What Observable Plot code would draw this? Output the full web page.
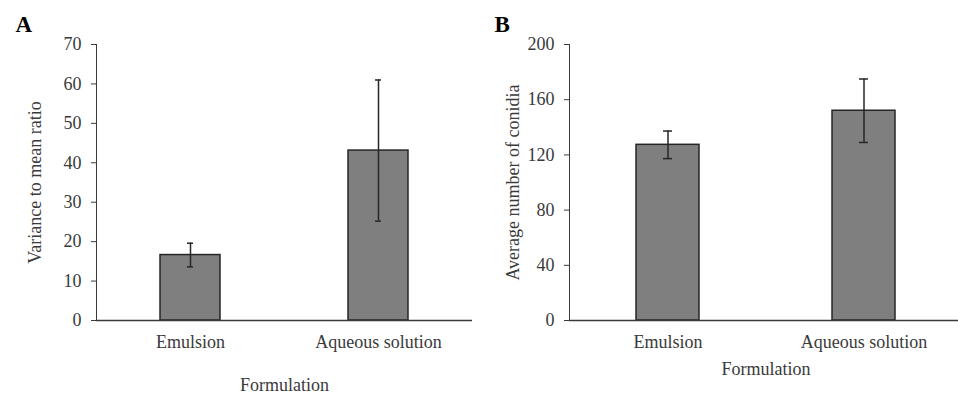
<!DOCTYPE html>
<html>
<head>
<meta charset="utf-8">
<script src="https://cdn.jsdelivr.net/npm/d3@7"></script>
<script src="https://cdn.jsdelivr.net/npm/@observablehq/plot@0.6"></script>
<style>
  html, body { margin: 0; padding: 0; background: #fff; overflow: hidden; }
  #wrap { position: relative; width: 958px; height: 394px; overflow: hidden; }
  #panelA { position: absolute; left: 0; top: 0; }
  #panelB { position: absolute; left: 479px; top: 0; width: 483px; }
  #wrap svg { max-width: none !important; }
</style>
</head>
<body>
<div id="wrap"><div id="panelA"></div><div id="panelB"></div></div>
<script>
// ---- data ----
const categories = ["Emulsion", "Aqueous solution"];
const ratioMean = [16.6, 43.1];
const ratioErr = [3.0, 17.9];
const conidiaMean = [127.3, 152.0];
const conidiaErr = [10.0, 23.0];
const ratioTicks = [0, 10, 20, 30, 40, 50, 60, 70];
const conidiaTicks = [0, 40, 80, 120, 160, 200];
const xTitle = "Formulation";
const ratioTitle = "Variance to mean ratio";
const conidiaTitle = "Average number of conidia";
const panelLetters = ["A", "B"];

const ink = "#3a3a3a";
const barFill = "#7f7f7f";
const barStroke = "#262626";

function panel({means, errs, ticks, yMax, yTitle, letter, width, marginLeft, marginRight, yTitleOffset, xTitleDy, tickSize}) {
  const rows = categories.map((c, i) => ({cat: c, mean: means[i], lo: means[i] - errs[i], hi: means[i] + errs[i]}));
  return Plot.plot({
    width, height: 394,
    marginLeft, marginRight, marginTop: 44, marginBottom: 74,
    style: {fontFamily: "'Liberation Serif', 'Times New Roman', serif", fontSize: "18px", color: ink, background: "#fff"},
    x: {domain: categories, paddingInner: 0.68, paddingOuter: 0.34, tickSize: 0, tickPadding: 15, label: null},
    y: {domain: [0, yMax], ticks, tickSize, tickPadding: 10, tickFormat: d => String(d), label: null, line: true},
    marks: [
      Plot.barY(rows, {x: "cat", y: "mean", fill: barFill, stroke: barStroke, strokeWidth: 1.5}),
      Plot.ruleX(rows, {x: "cat", y1: "lo", y2: "hi", stroke: barStroke, strokeWidth: 1.5}),
      Plot.tickY(rows, {x: "cat", y: "hi", stroke: barStroke, strokeWidth: 1.5, insetLeft: 27, insetRight: 27}),
      Plot.tickY(rows, {x: "cat", y: "lo", stroke: barStroke, strokeWidth: 1.5, insetLeft: 27, insetRight: 27}),
      Plot.ruleY([0], {stroke: ink, strokeWidth: 1.5}),
      Plot.text([xTitle], {frameAnchor: "bottom", textAnchor: "middle", lineAnchor: "bottom", dy: xTitleDy, fill: ink, fontSize: 18}),
      Plot.text([yTitle], {frameAnchor: "left", textAnchor: "middle", rotate: -90, lineAnchor: "middle", dx: -yTitleOffset, fill: ink, fontSize: 18}),
      Plot.text([letter], {frameAnchor: "top-left", textAnchor: "start", lineAnchor: "bottom", dx: 15 - marginLeft, dy: -13, fill: "#000", fontSize: 23, fontWeight: "bold"})
    ]
  });
}

document.getElementById("panelA").appendChild(panel({
  means: ratioMean, errs: ratioErr, ticks: ratioTicks, yMax: 70, yTitle: ratioTitle, letter: panelLetters[0],
  width: 479, marginLeft: 96, marginRight: 7, yTitleOffset: 61, xTitleDy: 70, tickSize: 5
}));
document.getElementById("panelB").appendChild(panel({
  means: conidiaMean, errs: conidiaErr, ticks: conidiaTicks, yMax: 200, yTitle: conidiaTitle, letter: panelLetters[1],
  width: 483, marginLeft: 90, marginRight: 0, yTitleOffset: 56, xTitleDy: 54, tickSize: 5
}));
</script>
</body>
</html>
